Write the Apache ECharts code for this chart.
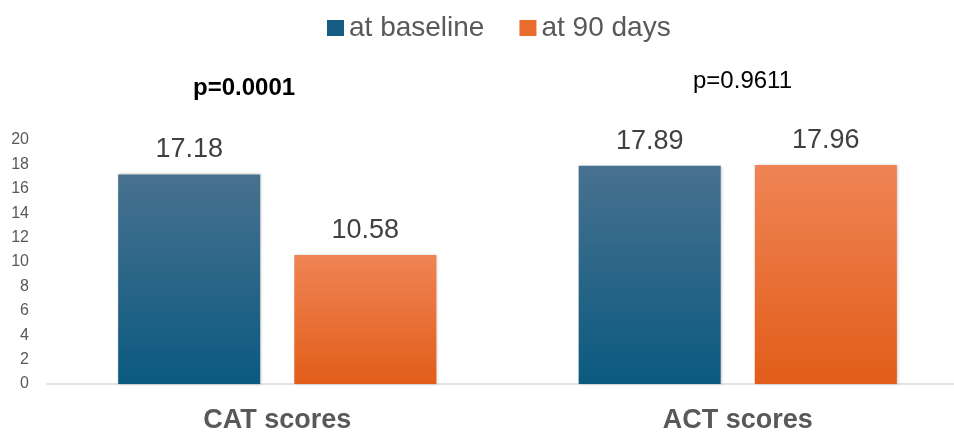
<!DOCTYPE html>
<html><head><meta charset="utf-8">
<script src="https://cdn.jsdelivr.net/npm/echarts@6/dist/echarts.min.js"></script>
<style>html,body{margin:0;padding:0;background:#fff;overflow:hidden;width:954px;height:434px}#c{width:968px;height:434px}</style>
</head><body><div id="c"></div>
<script>
const categories = ['CAT scores', 'ACT scores'];
const baseline = [17.18, 17.89];
const day90 = [10.58, 17.96];
const yTicks = [0, 2, 4, 6, 8, 10, 12, 14, 16, 18, 20];
const pValues = ['p=0.0001', 'p=0.9611'];

const chart = echarts.init(document.getElementById('c'));
const FONT = 'Liberation Sans, Arial, sans-serif';
const grad = (top, bot) => new echarts.graphic.LinearGradient(0, 0, 0, 1, [{offset: 0, color: top}, {offset: 1, color: bot}]);
const labelStyle = {show: true, position: 'top', distance: 11, fontSize: 27, color: '#404040', fontFamily: FONT, formatter: p => p.value.toFixed(2)};
chart.setOption({
  animation: false,
  legend: {
    top: 9, left: 322, itemWidth: 17, itemHeight: 16, itemGap: 35, icon: 'rect',
    textStyle: {fontSize: 28, color: '#595959', fontFamily: FONT},
    data: [{name: 'at baseline', itemStyle: {color: '#175c82'}}, {name: 'at 90 days', itemStyle: {color: '#ea6c2e'}}]
  },
  grid: {left: 47, right: 0, top: 140, bottom: 50},
  xAxis: {
    type: 'category', data: categories,
    axisLine: {lineStyle: {color: '#d9d9d9', width: 1.5}},
    axisTick: {show: false},
    axisLabel: {margin: 23, fontSize: 27, fontWeight: 'bold', color: '#595959', fontFamily: FONT}
  },
  yAxis: {
    type: 'value', min: yTicks[0], max: yTicks[yTicks.length - 1], interval: 2,
    axisLine: {show: false}, axisTick: {show: false}, splitLine: {show: false},
    axisLabel: {fontSize: 16, color: '#595959', margin: 18, fontFamily: FONT}
  },
  series: [
    {name: 'at baseline', type: 'bar', data: baseline, barCategoryGap: '30.9%', barGap: '24%',
     itemStyle: {color: grad('#48718f', '#0b5a80'), shadowColor: 'rgba(0,0,0,0.25)', shadowBlur: 3, shadowOffsetX: 1}, label: labelStyle},
    {name: 'at 90 days', type: 'bar', data: day90,
     itemStyle: {color: grad('#ef8455', '#e25d19'), shadowColor: 'rgba(0,0,0,0.25)', shadowBlur: 3, shadowOffsetX: 1}, label: labelStyle}
  ],
  graphic: [
    {type: 'text', left: 193, top: 76, style: {text: pValues[0], fontSize: 24, fontWeight: 'bold', fill: '#000', fontFamily: FONT}},
    {type: 'text', left: 693, top: 69, style: {text: pValues[1], fontSize: 24, fill: '#000', fontFamily: FONT}}
  ]
});
</script></body></html>
